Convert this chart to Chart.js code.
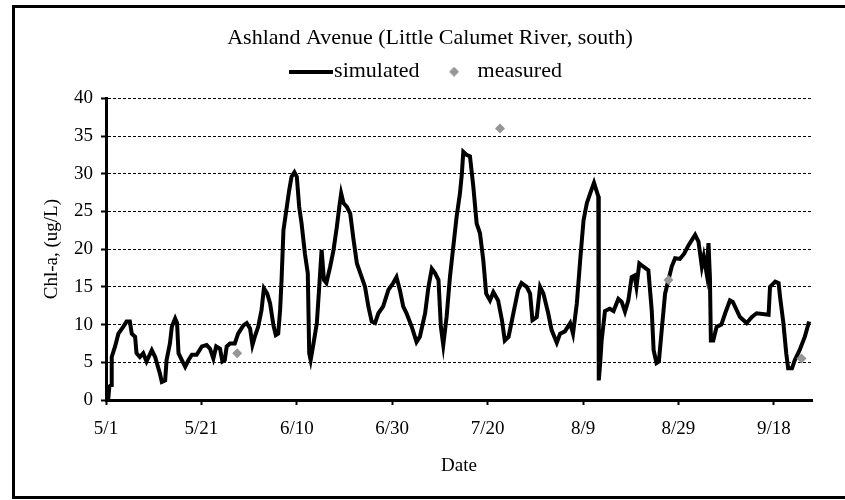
<!DOCTYPE html>
<html>
<head>
<meta charset="utf-8">
<script src="https://cdn.jsdelivr.net/npm/chart.js@4/dist/chart.umd.min.js"></script>
<style>
  body { margin: 0; background: #fff; overflow: hidden; }
</style>
</head>
<body>
<canvas id="myChart" width="845" height="500"></canvas>
<script>
// days after 5/1 and simulated Chl-a (ug/L)
const simDays = [
  0.0, 0.5, 0.7, 1.1, 1.2, 1.9, 2.6, 3.6, 4.3, 5.0, 5.4, 6.1, 6.4, 7.1, 7.8, 8.5, 9.6, 10.3, 11.3, 11.7,
  12.4, 12.7, 13.4, 13.8, 14.5, 14.9, 15.2, 15.9, 16.6, 17.3, 18.0, 19.0, 20.1, 21.1, 21.8, 22.5, 23.1, 23.9, 24.4, 24.9,
  25.3, 26.0, 27.0, 27.7, 28.8, 29.5, 30.2, 30.7, 31.2, 31.9, 32.6, 33.1, 33.8, 34.4, 35.1, 35.6, 36.1, 36.5, 36.8, 37.2,
  37.9, 38.4, 38.9, 39.5, 40.0, 40.5, 41.0, 41.7, 42.3, 42.6, 42.9, 43.5, 44.2, 44.7, 45.2, 45.7, 46.2, 47.0, 47.7, 48.4,
  48.9, 49.3, 49.8, 50.5, 51.2, 51.9, 52.6, 53.6, 54.3, 55.0, 55.7, 56.4, 57.1, 58.1, 59.2, 60.2, 60.9, 61.6, 62.3, 63.0,
  64.1, 65.1, 65.8, 66.9, 67.6, 68.3, 69.0, 69.7, 70.2, 70.7, 71.4, 72.1, 72.8, 73.5, 74.2, 74.6, 74.9, 75.6, 76.3, 77.0,
  77.7, 78.4, 79.1, 79.7, 80.5, 81.2, 82.2, 83.0, 83.6, 84.4, 85.4, 86.4, 87.1, 88.2, 88.9, 89.4, 90.3, 91.0, 91.7, 92.7,
  93.4, 94.5, 95.2, 96.2, 97.3, 97.9, 98.7, 99.4, 100.1, 100.8, 101.5, 102.3, 102.8, 103.2, 103.3, 103.6, 103.9, 104.6, 105.6, 106.4,
  107.4, 108.1, 108.8, 109.5, 110.2, 110.8, 111.2, 111.8, 112.6, 113.7, 114.4, 114.8, 115.4, 115.9, 116.5, 117.2, 117.9, 118.6, 119.3, 120.3,
  121.2, 122.1, 122.8, 123.5, 124.2, 124.9, 125.3, 125.9, 126.3, 126.6, 126.8, 127.3, 128.0, 129.0, 129.8, 130.8, 131.4, 132.9, 134.3, 135.4,
  136.4, 138.9, 139.2, 140.3, 141.0, 141.3, 142.0, 142.6, 143.0, 143.8, 144.4, 145.4, 146.5, 147.4
]
const simValues = [
  0.0, 0.3, 1.8, 2.0, 5.7, 7.1, 8.8, 9.7, 10.4, 10.4, 8.8, 8.4, 6.2, 5.7, 6.2, 5.1, 6.6, 5.7, 3.5, 2.4,
  2.6, 5.3, 7.5, 9.7, 10.8, 10.2, 6.2, 5.3, 4.4, 5.3, 6.0, 6.0, 7.1, 7.3, 6.8, 5.5, 7.1, 6.8, 5.1, 5.3,
  7.1, 7.5, 7.5, 8.8, 9.9, 10.2, 9.5, 7.3, 8.4, 9.7, 11.9, 14.8, 14.1, 12.8, 9.9, 8.6, 8.8, 11.9, 15.9, 22.5,
  25.6, 27.8, 29.6, 30.2, 29.6, 25.6, 23.4, 19.4, 16.8, 6.2, 5.3, 7.5, 10.2, 15.0, 19.9, 15.9, 15.5, 17.7, 19.9, 23.0,
  25.6, 27.4, 26.1, 25.6, 24.7, 21.2, 18.1, 16.3, 15.0, 12.4, 10.4, 10.2, 11.5, 12.4, 14.6, 15.5, 16.3, 14.6, 12.4, 11.5,
  9.7, 7.7, 8.4, 11.5, 15.0, 17.4, 16.8, 15.9, 9.7, 7.3, 11.0, 16.3, 20.3, 24.3, 27.4, 30.0, 32.9, 32.5, 32.3, 28.3,
  23.4, 22.1, 18.5, 14.1, 13.2, 14.3, 13.2, 10.6, 7.9, 8.4, 11.5, 14.6, 15.5, 15.0, 14.1, 10.6, 11.0, 15.0, 14.1, 11.5,
  9.3, 7.6, 8.8, 9.1, 10.2, 8.8, 12.8, 18.5, 23.8, 26.1, 27.4, 28.8, 27.8, 27.0, 2.6, 4.9, 7.9, 11.8, 12.1, 11.8,
  13.4, 13.0, 11.7, 13.2, 16.3, 16.5, 15.0, 18.1, 17.7, 17.2, 11.9, 6.6, 4.9, 5.1, 9.3, 14.1, 15.9, 17.7, 18.8, 18.7,
  19.4, 20.5, 21.2, 21.9, 21.0, 17.7, 19.0, 16.8, 20.8, 16.3, 7.9, 7.9, 9.7, 10.0, 11.5, 13.2, 13.0, 11.0, 10.2, 11.0,
  11.5, 11.3, 15.0, 15.7, 15.5, 13.7, 10.2, 6.2, 4.2, 4.2, 5.3, 6.6, 8.4, 10.4
]
const measDays = [27.5, 82.6, 117.9, 145.8]
const measValues = [6.2, 36.0, 15.9, 5.5]
const tickLabels = ['5/1', '5/21', '6/10', '6/30', '7/20', '8/9', '8/29', '9/18']

const serif = "'Liberation Serif', 'Times New Roman', serif"
Chart.defaults.color = '#000'
Chart.defaults.font.family = serif

// legend icons: thick line and grey diamond
const lineIcon = document.createElement('canvas')
lineIcon.width = 44
lineIcon.height = 4
lineIcon.getContext('2d').fillRect(0, 0, 44, 4)

const diamondIcon = document.createElement('canvas')
diamondIcon.width = 10
diamondIcon.height = 10
var dctx = diamondIcon.getContext('2d')
dctx.fillStyle = '#969696'
dctx.beginPath()
dctx.moveTo(5, 0)
dctx.lineTo(10, 5)
dctx.lineTo(5, 10)
dctx.lineTo(0, 5)
dctx.closePath()
dctx.fill()

// outer frame (left, top, bottom; right edge is cut off)
const frame = {
  id: 'frame',
  beforeInit(chart) {
    const fit = chart.legend.fit
    chart.legend.fit = function() {
      fit.call(this)
      this.height += 5.6
    }
  },
  afterDraw(chart) {
    const c = chart.ctx
    c.save()
    c.strokeStyle = '#000'
    c.lineWidth = 3
    c.beginPath()
    c.moveTo(845, 6.5)
    c.lineTo(13.5, 6.5)
    c.lineTo(13.5, 497.5)
    c.lineTo(845, 497.5)
    c.stroke()
    c.restore()
  }
}

var ctx = document.getElementById('myChart')
var myChart = new Chart(ctx, {
  type: 'line',
  data: {
    datasets: [
      {
        label: 'simulated',
        data: simDays.map((d, i) => ({ x: d, y: simValues[i] })),
        borderColor: '#000',
        backgroundColor: '#000',
        borderWidth: 4,
        pointRadius: 0,
        tension: 0,
        order: 1
      },
      {
        label: 'measured',
        data: measDays.map((d, i) => ({ x: d, y: measValues[i] })),
        showLine: false,
        pointStyle: 'rectRot',
        pointRadius: 5,
        borderWidth: 0,
        backgroundColor: '#969696',
        borderColor: '#969696',
        order: 0
      }
    ]
  },
  plugins: [frame],
  options: {
    responsive: false,
    animation: false,
    layout: { padding: { left: 48, right: 33, top: 6, bottom: 0 } },
    plugins: {
      title: {
        display: true,
        text: 'Ashland Avenue (Little Calumet River, south)',
        font: { size: 22, weight: 'normal' },
        padding: { top: 18.8, bottom: -12.5 }
      },
      legend: {
        display: true,
        labels: {
          font: { size: 22 },
          usePointStyle: true,
          pointStyleWidth: 25,
          padding: 22,
          generateLabels(chart) {
            const items = Chart.defaults.plugins.legend.labels.generateLabels(chart)
            items.sort((a, b) => a.datasetIndex - b.datasetIndex)
            items.forEach(it => {
              it.pointStyle = it.datasetIndex === 0 ? lineIcon : diamondIcon
            })
            return items
          }
        }
      },
      tooltip: { enabled: false }
    },
    scales: {
      x: {
        type: 'linear',
        min: 0,
        max: 148,
        afterFit(scale) { scale.height = 100 },
        ticks: {
          stepSize: 20,
          includeBounds: false,
          maxRotation: 0,
          padding: 13,
          font: { size: 19 },
          callback: v => tickLabels[v / 20]
        },
        grid: {
          drawOnChartArea: false,
          drawTicks: true,
          tickLength: 5,
          tickColor: '#000',
          tickWidth: 2
        },
        border: { color: '#000', width: 3 },
        title: {
          display: true,
          text: 'Date',
          font: { size: 19 },
          padding: { top: 0, bottom: 22.6 }
        }
      },
      y: {
        min: 0,
        max: 40,
        afterFit(scale) { scale.width = 58 },
        ticks: {
          stepSize: 5,
          padding: 8,
          font: { size: 19 }
        },
        grid: {
          color: '#000',
          lineWidth: 1,
          drawTicks: true,
          tickLength: 5,
          tickColor: '#000',
          tickWidth: 2
        },
        border: { color: '#000', width: 3, dash: [3, 2] },
        title: {
          display: true,
          text: 'Chl-a, (ug/L)',
          font: { size: 19 },
          padding: { top: -7.4, bottom: 0 }
        }
      }
    }
  }
})
</script>
</body>
</html>
